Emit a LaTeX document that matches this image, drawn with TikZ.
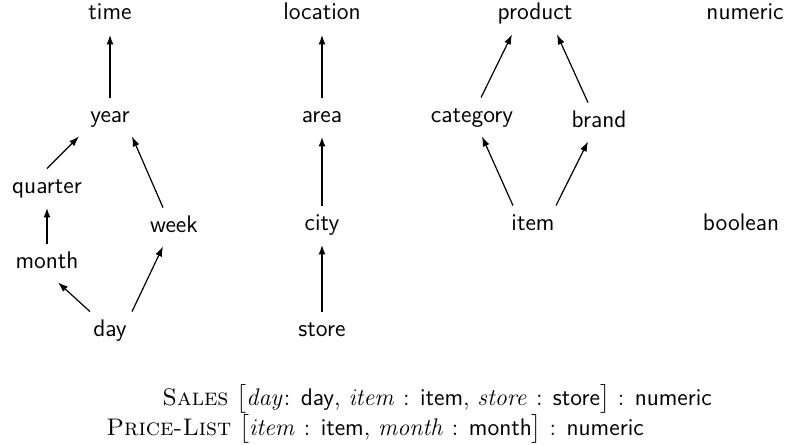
\documentclass[tikz,border=0pt]{standalone}
\usepackage{amsmath}
\usepackage{amssymb}
\usetikzlibrary{arrows.meta}

\begin{document}
\begin{tikzpicture}[x=0.5pt,y=-0.5pt,
  main node/.style={font=\sffamily\large,anchor=base,inner xsep=0pt,inner ysep=5pt,
    text height=7pt,text depth=2pt},
  up/.style={-{Latex[length=5pt,width=3.5pt]},line width=1.3pt},
  slant/.style={-{Latex[length=5pt,width=3.5pt]},semithick}]
  \useasboundingbox (0,0) rectangle (791,444);

  % time hierarchy
  \node[main node] (time) at (110,20) {time};
  \node[main node] (year) at (110,122) {year};
  \node[main node] (quarter) at (47,193) {quarter};
  \node[main node] (week) at (174,232) {week};
  \node[main node] (month) at (47,268) {month};
  \node[main node] (day) at (110,336) {day};
  % location hierarchy
  \node[main node] (location) at (322,20) {location};
  \node[main node] (area) at (322,122) {area};
  \node[main node] (city) at (322,230) {city};
  \node[main node] (store) at (322,336) {store};
  % product hierarchy
  \node[main node] (product) at (535,20) {product};
  \node[main node] (category) at (472,122) {category};
  \node[main node] (brand) at (599,127) {brand};
  \node[main node] (item) at (533,230) {item};
  % single types
  \node[main node] (numeric) at (745,20) {numeric};
  \node[main node] (boolean) at (741,230) {boolean};

 \path[]
 (year.north) [up] edge node [] {} (time.south)
 (quarter.north) [slant] edge node [] {} ([xshift=-15.5pt]year.south)
 ([xshift=-5.5pt]week.north) [slant] edge node [] {} ([xshift=11pt]year.south)
 (month.north) [up] edge node [] {} (quarter.south)
 ([xshift=-10pt]day.north) [slant] edge node [] {} ([xshift=5.5pt]month.south)
 ([xshift=11pt]day.north) [slant] edge node [] {} ([xshift=-5.5pt]week.south)
 (area.north) [up] edge node [] {} (location.south)
 (city.north) [up] edge node [] {} (area.south)
 (store.north) [up] edge node [] {} (city.south)
 ([xshift=4.5pt]category.north) [slant] edge node [] {} ([xshift=-11.5pt]product.south)
 ([xshift=-5.5pt]brand.north) [slant] edge node [] {} ([xshift=11pt]product.south)
 ([xshift=-10pt]item.north) [slant] edge node [] {} ([xshift=5pt]category.south)
 ([xshift=11.5pt]item.north) [slant] edge node [] {} ([xshift=-5.5pt]brand.south);

  % schemas
  \node[anchor=base west,inner sep=0pt,font=\large] (sales) at (162,405)
    {\textsc{Sales} $\bigl[\mathit{day}$: \textsf{day}, $\mathit{item}$ : \textsf{item}, $\mathit{store}$ : \textsf{store}$\bigr]$ : \textsf{numeric}};
  \node[anchor=base west,inner sep=0pt,font=\large] (pricelist) at (106,435)
    {\textsc{Price-List} $\bigl[\mathit{item}$ : \textsf{item}, $\mathit{month}$ : \textsf{month}$\bigr]$ : \textsf{numeric}};
\end{tikzpicture}
\end{document}
